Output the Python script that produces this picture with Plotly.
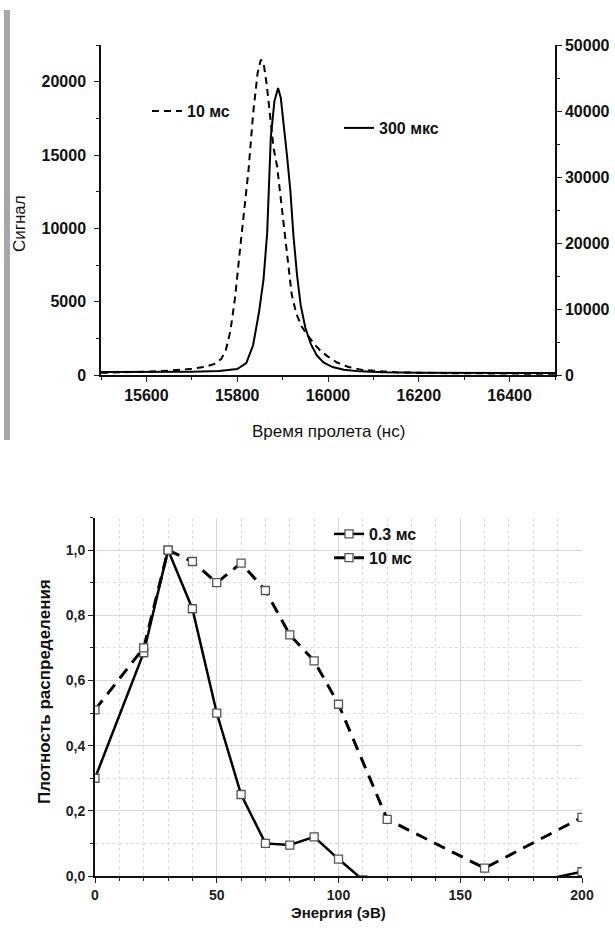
import plotly.graph_objects as go

# ---------------- data: top chart (time-of-flight signal) ----------------
t_10ms = [15500, 15550, 15600, 15650, 15700, 15730, 15750, 15765, 15775, 15785,
          15795, 15805, 15815, 15825, 15835, 15845, 15852, 15858, 15865, 15872,
          15880, 15888, 15896, 15904, 15912, 15920, 15930, 15942, 15955, 15970,
          15985, 16000, 16020, 16045, 16075, 16110, 16150, 16250, 16350, 16500]
s_10ms = [150, 180, 220, 300, 420, 560, 760, 1100, 1700, 3000,
          5200, 8200, 11000, 14000, 17800, 20600, 21500, 21300, 19800, 17800,
          15500, 14200, 12000, 9600, 7600, 5500, 4200, 3300, 2700, 2100,
          1600, 1250, 850, 550, 350, 250, 180, 130, 100, 80]

t_300us = [15500, 15600, 15700, 15760, 15800, 15820, 15835, 15848, 15858, 15866,
           15874, 15882, 15890, 15896, 15903, 15910, 15917, 15924, 15932, 15940,
           15950, 15962, 15975, 15990, 16010, 16035, 16070, 16120, 16200, 16350, 16500]
s_300us = [450, 450, 500, 600, 900, 1800, 4500, 9500, 14500, 21500,
           36000, 41500, 43500, 42000, 37800, 33000, 28000, 21000, 15000, 10500,
           7200, 4700, 3000, 1900, 1200, 800, 550, 400, 350, 300, 300]

top_x_ticks = [15600, 15800, 16000, 16200, 16400]
top_left_ticks = [0, 5000, 10000, 15000, 20000]
top_right_ticks = [0, 10000, 20000, 30000, 40000, 50000]

# ---------------- data: bottom chart (energy distribution) ----------------
e_03ms = [0, 20, 30, 40, 50, 60, 70, 80, 90, 100, 110, 120, 160, 200]
d_03ms = [0.30, 0.685, 1.0, 0.82, 0.50, 0.25, 0.10, 0.095, 0.12, 0.052, -0.012, -0.03, -0.05, 0.013]

e_10ms = [0, 20, 30, 40, 50, 60, 70, 80, 90, 100, 120, 160, 200]
d_10ms = [0.51, 0.70, 1.0, 0.965, 0.90, 0.96, 0.876, 0.74, 0.66, 0.527, 0.174, 0.024, 0.18]

bot_x_ticks = [0, 50, 100, 150, 200]
bot_y_ticks = [0.0, 0.2, 0.4, 0.6, 0.8, 1.0]
bot_y_labels = ["0,0", "0,2", "0,4", "0,6", "0,8", "1,0"]

W, H = 615, 934
FONT = "Liberation Sans, Arial, sans-serif"

def px(x):
    return x / W

def py(y):
    return 1 - y / H

fig = go.Figure()

# top traces
fig.add_trace(go.Scatter(x=t_10ms, y=s_10ms, mode="lines", name="10 мс",
                         line=dict(color="black", width=2, dash="7px,5px"),
                         xaxis="x", yaxis="y", legend="legend2"))
fig.add_trace(go.Scatter(x=t_300us, y=s_300us, mode="lines", name="300 мкс",
                         line=dict(color="black", width=2),
                         xaxis="x", yaxis="y3", legend="legend3"))

# bottom traces
fig.add_trace(go.Scatter(x=e_03ms, y=d_03ms, mode="lines+markers", name="0.3 мс",
                         line=dict(color="black", width=2.5),
                         marker=dict(symbol="square", size=8, color="white",
                                     line=dict(color="#555555", width=1.3)),
                         xaxis="x2", yaxis="y2", legend="legend"))
fig.add_trace(go.Scatter(x=e_10ms, y=d_10ms, mode="lines+markers", name="10 мс",
                         line=dict(color="black", width=3, dash="12px,8px"),
                         marker=dict(symbol="square", size=8, color="white",
                                     line=dict(color="#555555", width=1.3)),
                         xaxis="x2", yaxis="y2", legend="legend"))

tickfont_top = dict(family=FONT, size=16, color="#111", weight="bold")
tickfont_bot = dict(family=FONT, size=14, color="#222", weight="bold")

fig.update_layout(
    width=W, height=H,
    margin=dict(l=0, r=0, t=0, b=0),
    paper_bgcolor="white", plot_bgcolor="white",
    font=dict(family=FONT, color="#111"),
    showlegend=True,
    xaxis=dict(domain=[px(101), px(555)], anchor="y", range=[15500, 16500],
               tickmode="array", tickvals=top_x_ticks,
               ticktext=[str(v) for v in top_x_ticks],
               ticks="outside", ticklen=5, tickwidth=1.2, tickcolor="#222",
               minor=dict(dtick=100, ticks="outside", ticklen=3, tickcolor="#222"),
               showline=True, linecolor="#111", linewidth=1.5,
               showgrid=False, zeroline=False, tickfont=tickfont_top,
               automargin=False),
    yaxis=dict(domain=[py(375), py(45)], anchor="x", range=[0, 22500],
               tickmode="array", tickvals=top_left_ticks,
               ticktext=[str(v) for v in top_left_ticks],
               ticks="outside", ticklen=5, tickwidth=1.2, tickcolor="#222",
               minor=dict(dtick=2500, ticks="outside", ticklen=3, tickcolor="#222"),
               showline=True, linecolor="#111", linewidth=1.5,
               showgrid=False, zeroline=False, tickfont=tickfont_top,
               ticklabelstandoff=5, automargin=False),
    yaxis3=dict(overlaying="y", side="right", anchor="x", range=[0, 50000],
                tickmode="array", tickvals=top_right_ticks,
                ticktext=[str(v) for v in top_right_ticks],
                ticks="outside", ticklen=5, tickwidth=1.2, tickcolor="#222",
                minor=dict(dtick=5000, ticks="outside", ticklen=3, tickcolor="#222"),
                showline=True, linecolor="#111", linewidth=1.5,
                showgrid=False, zeroline=False, tickfont=tickfont_top,
                automargin=False),
    xaxis2=dict(domain=[px(95), px(582)], anchor="y2", range=[0, 200],
                tickmode="array", tickvals=bot_x_ticks,
                ticktext=[str(v) for v in bot_x_ticks],
                ticks="outside", ticklen=5, tickwidth=1.2, tickcolor="#222",
                minor=dict(dtick=10, ticks="outside", ticklen=3, tickcolor="#222",
                           showgrid=True, gridcolor="#dcdcdc", griddash="dot", gridwidth=1),
                showline=True, linecolor="#111", linewidth=1.8,
                showgrid=True, gridcolor="#d8d8d8", gridwidth=1,
                zeroline=False, tickfont=tickfont_bot, automargin=False),
    yaxis2=dict(domain=[py(876), py(517.5)], anchor="x2", range=[0, 1.1],
                tickmode="array", tickvals=bot_y_ticks, ticktext=bot_y_labels,
                ticks="outside", ticklen=5, tickwidth=1.2, tickcolor="#222",
                minor=dict(dtick=0.1, ticks="outside", ticklen=3, tickcolor="#222",
                           showgrid=True, gridcolor="#dcdcdc", griddash="dot", gridwidth=1),
                showline=True, linecolor="#111", linewidth=1.8,
                showgrid=True, gridcolor="#d8d8d8", gridwidth=1,
                zeroline=False, tickfont=tickfont_bot, automargin=False),
    xaxis4=dict(overlaying="x2", side="top", anchor="y2", range=[0, 200],
                tickmode="array", tickvals=bot_x_ticks, showticklabels=False,
                ticks="inside", ticklen=5, tickwidth=1.2, tickcolor="#222",
                minor=dict(dtick=10, ticks="inside", ticklen=3, tickcolor="#222"),
                showline=True, linecolor="#111", linewidth=1.8,
                showgrid=False, zeroline=False),
    yaxis4=dict(overlaying="y2", side="right", anchor="x2", range=[0, 1.1],
                tickmode="array", tickvals=bot_y_ticks, showticklabels=False,
                ticks="inside", ticklen=5, tickwidth=1.2, tickcolor="#222",
                minor=dict(dtick=0.1, ticks="inside", ticklen=3, tickcolor="#222"),
                showline=True, linecolor="#111", linewidth=1.8,
                showgrid=False, zeroline=False),
    legend=dict(x=px(329), y=py(517), xanchor="left", yanchor="top",
                bgcolor="rgba(0,0,0,0)", borderwidth=0, tracegroupgap=0,
                font=dict(family=FONT, size=16, color="#111", weight="bold"),
                itemwidth=30),
    legend2=dict(x=px(147), y=py(94), xanchor="left", yanchor="top",
                 bgcolor="rgba(0,0,0,0)", borderwidth=0,
                 font=dict(family=FONT, size=16, color="#111", weight="bold")),
    legend3=dict(x=px(339), y=py(111), xanchor="left", yanchor="top",
                 bgcolor="rgba(0,0,0,0)", borderwidth=0,
                 font=dict(family=FONT, size=16, color="#111", weight="bold")),
    shapes=[dict(type="rect", xref="paper", yref="paper",
                 x0=px(4), x1=px(10), y0=py(440), y1=py(10),
                 fillcolor="#a8a8a8", line=dict(width=0), layer="below")],
    annotations=[
        dict(text="Время пролета (нс)", xref="paper", yref="paper",
             x=px(328), y=py(432), xanchor="center", yanchor="middle",
             showarrow=False, font=dict(family=FONT, size=17, color="#111")),
        dict(text="Сигнал", xref="paper", yref="paper",
             x=px(19), y=py(224), xanchor="center", yanchor="middle",
             showarrow=False, textangle=-90,
             font=dict(family=FONT, size=17, color="#111")),
        dict(text="Энергия (эВ)", xref="paper", yref="paper",
             x=px(338), y=py(912), xanchor="center", yanchor="middle",
             showarrow=False,
             font=dict(family=FONT, size=15, color="#111", weight="bold")),
        dict(text="Плотность распределения", xref="paper", yref="paper",
             x=px(44), y=py(692), xanchor="center", yanchor="middle",
             showarrow=False, textangle=-90,
             font=dict(family=FONT, size=17, color="#111", weight="bold")),
    ],
)

fig.write_html("out.html")
